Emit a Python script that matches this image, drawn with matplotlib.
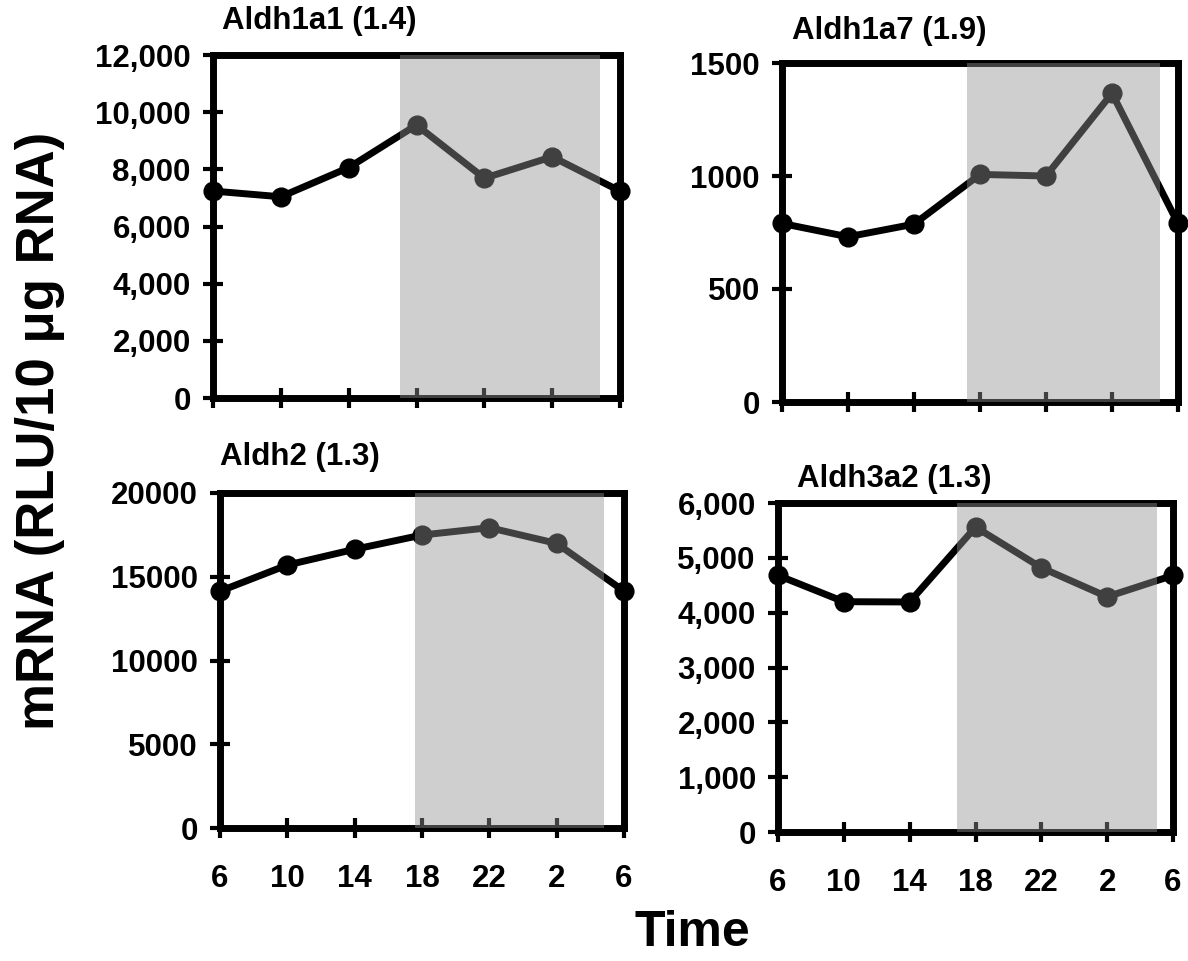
import numpy as np
import matplotlib.pyplot as plt
from matplotlib.ticker import FuncFormatter

plt.rcParams['font.family'] = ['Liberation Sans', 'DejaVu Sans']
plt.rcParams['font.weight'] = 'bold'

# Data
time_labels = ['6', '10', '14', '18', '22', '2', '6']
titles = ['Aldh1a1 (1.4)', 'Aldh1a7 (1.9)', 'Aldh2 (1.3)', 'Aldh3a2 (1.3)']
aldh1a1 = [7240, 7040, 8060, 9550, 7690, 8440, 7240]
aldh1a7 = [790, 731, 787, 1007, 1000, 1366, 790]
aldh2 = [14140, 15700, 16640, 17490, 17930, 16990, 14140]
aldh3a2 = [4680, 4200, 4195, 5560, 4820, 4290, 4680]
series = [aldh1a1, aldh1a7, aldh2, aldh3a2]
ymax = [12000, 1500, 20000, 6000]
ystep = [2000, 500, 5000, 1000]
comma = [True, False, False, True]
dark_span = [(2.76, 5.71), (2.80, 5.73), (2.90, 5.70), (2.72, 5.76)]

W, H = 1188, 961
fig = plt.figure(figsize=(W / 100, H / 100), dpi=100)

# axes boxes in pixels: left, right, top, bottom
boxes = [(213, 620, 55, 398), (782, 1178, 63, 402),
         (220, 624, 493, 828), (778, 1173, 503, 832)]
title_pos = [(222, 21), (792, 31), (220, 457), (797, 479)]

x = np.arange(len(time_labels))
for i in range(4):
    l, r, t, b = boxes[i]
    ax = fig.add_axes([l / W, (H - b) / H, (r - l) / W, (b - t) / H])
    ax.plot(x, series[i], color='black', lw=5, marker='o', ms=13.5,
            clip_on=False, zorder=3)
    ax.axvspan(dark_span[i][0], dark_span[i][1], color='#939393',
               alpha=0.44, lw=0, zorder=5)
    ax.set_xlim(0, 6)
    ax.set_ylim(0, ymax[i])
    ax.set_xticks(x)
    ax.set_yticks(np.arange(0, ymax[i] + 1, ystep[i]))
    if comma[i]:
        ax.yaxis.set_major_formatter(FuncFormatter(lambda v, p: f'{int(v):,}'))
    if i >= 2:
        ax.set_xticklabels(time_labels)
    else:
        ax.set_xticklabels([])
    for s in ax.spines.values():
        s.set_linewidth(5)
    ax.tick_params(direction='inout', length=14, width=3, labelsize=22.5,
                   pad=9)
    ax.tick_params(axis='x', pad=19)
    for lab in ax.get_xticklabels() + ax.get_yticklabels():
        lab.set_fontweight('bold')
    fig.text(title_pos[i][0] / W, 1 - title_pos[i][1] / H, titles[i],
             fontsize=22.5, fontweight='bold', va='center', ha='left')

fig.text(40 / W, 1 - 431 / H, 'mRNA (RLU/10 \u03bcg RNA)', rotation=90,
         fontsize=38, fontweight='bold', va='center', ha='center')
fig.text(692 / W, 1 - 933 / H, 'Time', fontsize=36, fontweight='bold',
         va='center', ha='center')

fig.savefig('out.png', dpi=100)
